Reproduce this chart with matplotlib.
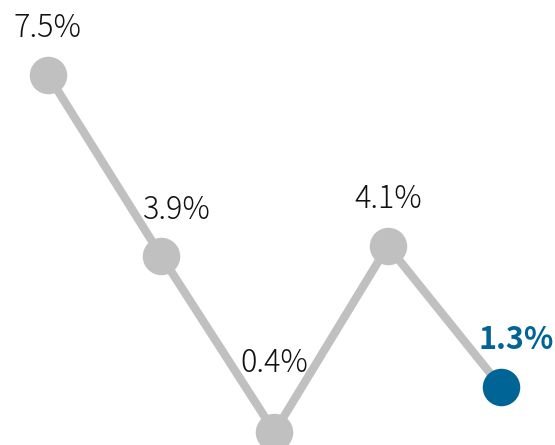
import matplotlib
matplotlib.use("Agg")
import matplotlib.pyplot as plt

plt.rcParams['font.family'] = ['Noto Sans CJK JP', 'DejaVu Sans']

categories = ["1", "2", "3", "4", "5"]
values = [7.5, 3.9, 0.4, 4.1, 1.3]
labels = ["7.5%", "3.9%", "0.4%", "4.1%", "1.3%"]

GREY = "#c0c0c0"
BLUE = "#006496"

fig = plt.figure(figsize=(5.55, 4.45), dpi=100)
ax = fig.add_axes([0, 0, 1, 1])
x = list(range(len(values)))
ax.plot(x, values, color=GREY, lw=6, solid_capstyle='round', zorder=1)
colors = [GREY] * (len(values) - 1) + [BLUE]
for i, (xi, v) in enumerate(zip(x, values)):
    ax.plot([xi], [v], 'o', ms=27, color=colors[i], mec='none', zorder=3)

offsets = [(0, 34), (11, 33), (0, 50), (0, 34), (11, 34)]
for i, (xi, v) in enumerate(zip(x, values)):
    last = i == len(values) - 1
    ax.annotate(labels[i], (xi, v), xytext=offsets[i], textcoords='offset points',
                ha='center', va='center', fontsize=22,
                color=BLUE if last else '#111111',
                fontweight='bold' if last else 'light')

ax.set_xlim(-0.4238, 4.4768)
ax.set_ylim(0.141, 8.9916)
ax.axis('off')
fig.savefig("out.png", dpi=100)
